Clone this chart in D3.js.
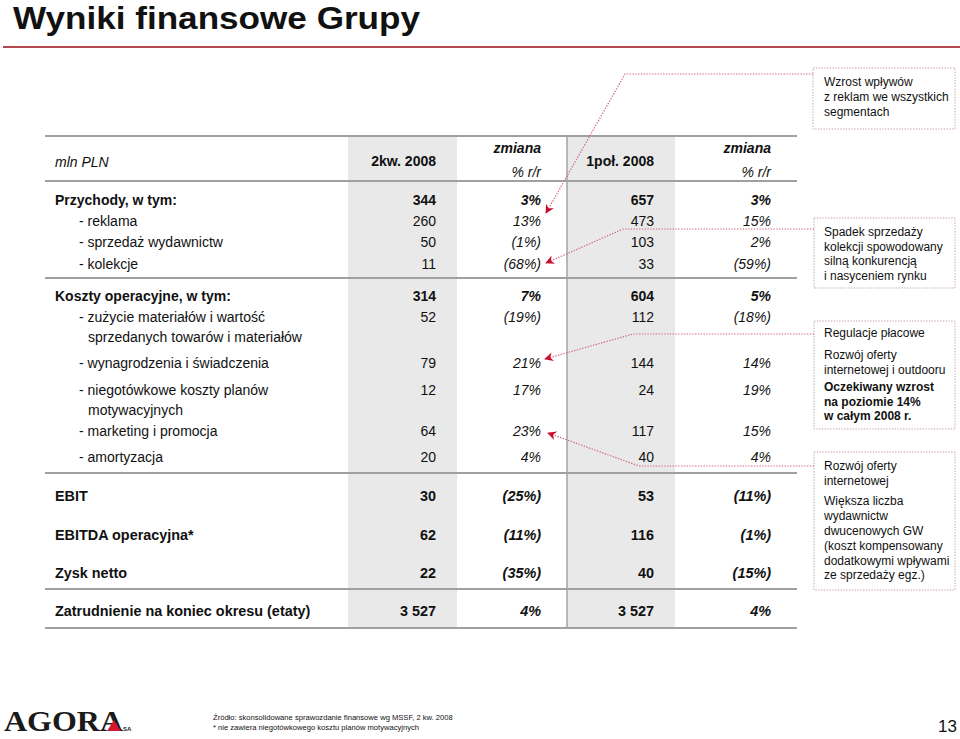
<!doctype html>
<html lang='pl'>
<head>
<meta charset='UTF-8'>
<title>Wyniki finansowe Grupy</title>
<style>
  body { margin: 0; background: #fff; }
  svg { display: block; font-family: 'Liberation Sans', Arial, sans-serif; }
  .note { font-size: 12px; fill: #111; }
  .conn { fill: none; stroke: #d2697b; stroke-width: 1.2; stroke-dasharray: 1.4 1.4; }
  .box { fill: #fff; stroke: #c7a3ab; stroke-width: 1; stroke-dasharray: 1.4 1.4; }
</style>
</head>
<body>
<script src='https://d3js.org/d3.v7.min.js'></script>
<script>
  // ---- data ----
  const rowLabels = [
    ['Przychody, w tym:'],
    ['- reklama'],
    ['- sprzedaż wydawnictw'],
    ['- kolekcje'],
    ['Koszty operacyjne, w tym:'],
    ['- zużycie materiałów i wartość', 'sprzedanych towarów i materiałów'],
    ['- wynagrodzenia i świadczenia'],
    ['- niegotówkowe koszty planów', 'motywacyjnych'],
    ['- marketing i promocja'],
    ['- amortyzacja'],
    ['EBIT'],
    ['EBITDA operacyjna*'],
    ['Zysk netto'],
    ['Zatrudnienie na koniec okresu (etaty)']
  ]
  const rowKind = ['total', 'sub', 'sub', 'sub', 'total', 'sub', 'sub', 'sub', 'sub', 'sub',
    'result', 'result', 'result', 'result']

  const q2Values = ['344', '260', '50', '11', '314', '52', '79', '12', '64', '20', '30', '62', '22', '3 527']
  const q2Change = ['3%', '13%', '(1%)', '(68%)', '7%', '(19%)', '21%', '17%', '23%', '4%', '(25%)', '(11%)', '(35%)', '4%']
  const h1Values = ['657', '473', '103', '33', '604', '112', '144', '24', '117', '40', '53', '116', '40', '3 527']
  const h1Change = ['3%', '15%', '2%', '(59%)', '5%', '(18%)', '14%', '19%', '15%', '4%', '(11%)', '(1%)', '(15%)', '4%']

  const columns = ['q2', 'q2chg', 'h1', 'h1chg']
  const columnHeads = ['2kw. 2008', 'zmiana', '1poł. 2008', 'zmiana']

  const notes = [
    { lines: [['Wzrost wpływów'], ['z reklam we wszystkich'], ['segmentach']], target: 1 },
    { lines: [['Spadek sprzedaży'], ['kolekcji spowodowany'], ['silną konkurencją'], ['i nasyceniem rynku']], target: 3 },
    { lines: [['Regulacje płacowe'], ['Rozwój oferty'], ['internetowej i outdooru'], ['Oczekiwany wzrost', 1], ['na poziomie 14%', 1], ['w całym 2008 r.', 1]], target: 6 },
    { lines: [['Rozwój oferty'], ['internetowej'], ['Większa liczba'], ['wydawnictw'], ['dwucenowych GW'], ['(koszt kompensowany'], ['dodatkowymi wpływami'], ['ze sprzedaży egz.)']], target: 8 }
  ]

  // ---- layout ----
  const W = 960, H = 739
  const tableLeft = 45, tableRight = 797
  const rowCenters = [200, 221, 242, 264, 296, 317, 363, 390, 431, 457, 496, 535, 573, 611]
  const rules = [136, 181, 278, 473, 589, 628]
  const narrow = 0.93

  const x = d3.scaleOrdinal().domain(columns).range([436, 541, 654, 771])
  const y = d3.scaleOrdinal().domain(d3.range(rowLabels.length)).range(rowCenters)

  const svg = d3.select('body').append('svg')
    .attr('width', W)
    .attr('height', H)

  // title
  svg.append('text')
    .attr('x', 13).attr('y', 29)
    .attr('font-size', 32).attr('font-weight', 'bold')
    .attr('textLength', 407).attr('lengthAdjust', 'spacingAndGlyphs')
    .attr('fill', '#111')
    .text('Wyniki finansowe Grupy')

  svg.append('line')
    .attr('x1', 3).attr('x2', W).attr('y1', 47).attr('y2', 47)
    .attr('stroke', '#b5474f').attr('stroke-width', 2)

  // shaded columns
  svg.selectAll('rect.shade')
    .data([[348, 457], [567, 675]])
    .join('rect')
    .attr('class', 'shade')
    .attr('x', d => d[0]).attr('width', d => d[1] - d[0])
    .attr('y', rules[0]).attr('height', rules[rules.length - 1] - rules[0])
    .attr('fill', '#e9e9e9')

  svg.append('line')
    .attr('x1', 567).attr('x2', 567)
    .attr('y1', rules[0]).attr('y2', rules[rules.length - 1])
    .attr('stroke', '#a3a3a3').attr('stroke-width', 1.5)

  svg.selectAll('line.rule')
    .data(rules)
    .join('line')
    .attr('class', 'rule')
    .attr('x1', tableLeft).attr('x2', tableRight)
    .attr('y1', d => d).attr('y2', d => d)
    .attr('stroke', '#a0a0a0').attr('stroke-width', 2)

  // header
  const head = svg.append('g').attr('fill', '#111')
  head.append('text')
    .attr('x', 55).attr('y', 162).attr('dy', '0.35em')
    .attr('font-size', 14).attr('font-style', 'italic')
    .text('mln PLN')

  columns.forEach((c, i) => {
    if (i % 2 === 0) {
      head.append('text')
        .attr('x', x(c)).attr('y', 161).attr('dy', '0.35em')
        .attr('text-anchor', 'end')
        .attr('font-size', 14).attr('font-weight', 'bold')
        .text(columnHeads[i])
    } else {
      head.append('text')
        .attr('x', x(c)).attr('y', 148).attr('dy', '0.35em')
        .attr('text-anchor', 'end')
        .attr('font-size', 14).attr('font-weight', 'bold').attr('font-style', 'italic')
        .text(columnHeads[i])
      head.append('text')
        .attr('x', x(c)).attr('y', 172).attr('dy', '0.35em')
        .attr('text-anchor', 'end')
        .attr('font-size', 14).attr('font-style', 'italic')
        .text('% r/r')
    }
  })

  // rows
  const rows = svg.append('g').attr('fill', '#111')
    .selectAll('g')
    .data(rowLabels.map((label, i) => ({
      i, label, kind: rowKind[i],
      q2: q2Values[i], q2chg: q2Change[i], h1: h1Values[i], h1chg: h1Change[i]
    })))
    .join('g')
    .attr('font-size', d => d.kind === 'result' ? 15.5 : 14)
    .attr('font-weight', d => d.kind === 'sub' ? null : 'bold')

  // result rows use a slightly condensed face, like the original slide
  function place(sel, px, py, d) {
    if (d.kind === 'result') {
      sel.attr('transform', `translate(${px},${py}) scale(${narrow},1)`)
    } else {
      sel.attr('x', px).attr('y', py)
    }
    return sel.attr('dy', '0.35em')
  }

  rows.each(function (d) {
    const g = d3.select(this)
    d.label.forEach((t, k) => {
      place(g.append('text'), d.kind === 'sub' ? (k === 0 ? 79 : 88) : 55, y(d.i) + k * 20, d)
        .text(t)
    })
    columns.forEach((c, j) => {
      place(g.append('text'), x(c), y(d.i), d)
        .attr('text-anchor', 'end')
        .attr('font-style', j % 2 ? 'italic' : null)
        .text(d[c])
    })
  })

  // notes on the right
  const boxes = [
    { x0: 813, y0: 68, y1: 129, top: 82, join: [625, 74], arrow: [546, 213] },
    { x0: 814, y0: 218, y1: 288, top: 232, join: [623, 229], arrow: [546, 263] },
    { x0: 814, y0: 321, y1: 429, top: 333, join: [633, 334], arrow: [545, 359] },
    { x0: 814, y0: 452, y1: 590, top: 466, join: [639, 466], arrow: [548, 433] }
  ]
  const lineGaps = [[15, 15], [14.5, 14.5, 14.5], [22, 15, 17, 15, 14], [15, 20, 15, 15, 15, 15, 14]]

  svg.append('defs').append('marker')
    .attr('id', 'arrow')
    .attr('viewBox', '0 0 10 10')
    .attr('refX', 9).attr('refY', 5)
    .attr('markerWidth', 9).attr('markerHeight', 9)
    .attr('markerUnits', 'userSpaceOnUse')
    .attr('orient', 'auto')
    .append('path')
    .attr('d', 'M0,0 L10,5 L0,10 L3,5 Z')
    .attr('fill', '#c8102e')

  notes.forEach((n, i) => {
    const b = boxes[i]
    svg.append('rect')
      .attr('class', 'box')
      .attr('x', b.x0).attr('y', b.y0)
      .attr('width', 955 - b.x0).attr('height', b.y1 - b.y0)

    svg.append('path')
      .attr('class', 'conn')
      .attr('d', d3.line()([[b.x0, b.join[1]], b.join, b.arrow]))
      .attr('marker-end', 'url(#arrow)')

    let ty = b.top
    n.lines.forEach((ln, k) => {
      if (k > 0) ty += lineGaps[i][k - 1]
      svg.append('text')
        .attr('class', 'note')
        .attr('x', 824).attr('y', ty).attr('dy', '0.35em')
        .attr('font-weight', ln[1] ? 'bold' : null)
        .text(ln[0])
    })
  })

  // footer
  const logo = svg.append('g')
  logo.append('text')
    .attr('x', 4).attr('y', 731)
    .attr('font-family', "'Liberation Serif', serif")
    .attr('font-size', 29).attr('font-weight', 'bold')
    .attr('textLength', 119).attr('lengthAdjust', 'spacingAndGlyphs')
    .attr('fill', '#1a1a1a')
    .text('AGORA')
  logo.append('path')
    .attr('d', 'M107,731 L114,720 L121,731 Z')
    .attr('fill', '#d3172e')
  logo.append('text')
    .attr('x', 123).attr('y', 731)
    .attr('font-size', 6).attr('font-weight', 'bold')
    .attr('fill', '#1a1a1a')
    .text('SA')

  svg.append('text')
    .attr('x', 213).attr('y', 720)
    .attr('font-size', 7.6).attr('fill', '#111')
    .text('Źródło: skonsolidowane sprawozdanie finansowe wg MSSF, 2 kw. 2008')
  svg.append('text')
    .attr('x', 213).attr('y', 730)
    .attr('font-size', 7.6).attr('fill', '#111')
    .text('* nie zawiera niegotówkowego kosztu planów motywacyjnych')

  svg.append('text')
    .attr('x', 957).attr('y', 732)
    .attr('text-anchor', 'end')
    .attr('font-size', 17).attr('fill', '#111')
    .text('13')
</script>
</body>
</html>
